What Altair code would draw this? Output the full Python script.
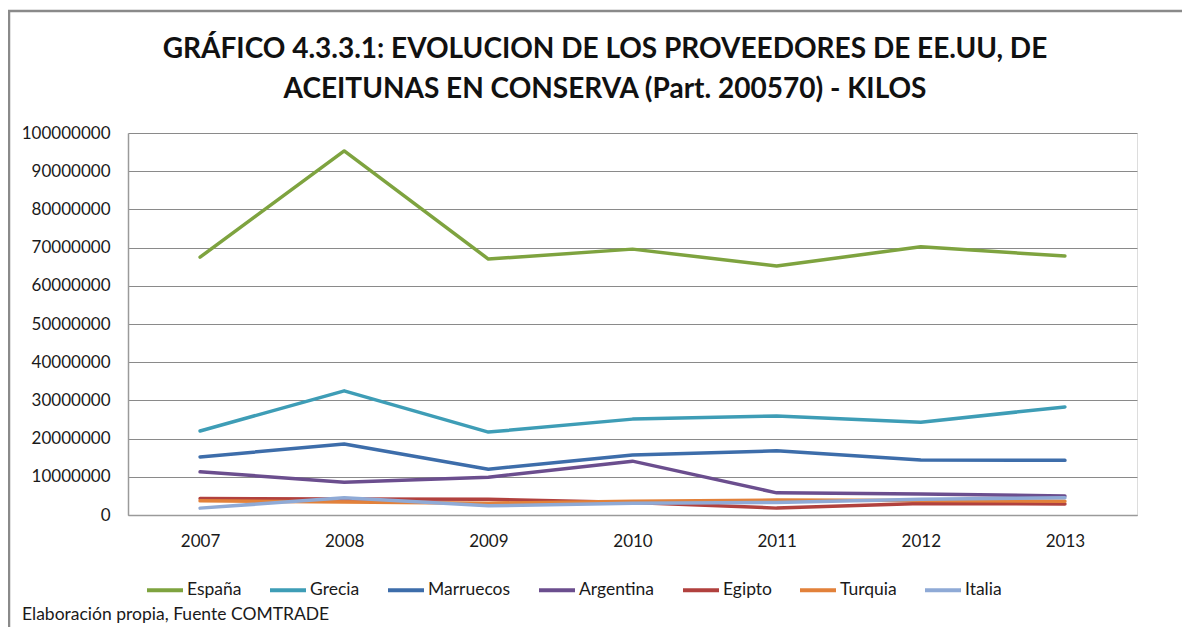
import altair as alt
import pandas as pd

years = ["2007", "2008", "2009", "2010", "2011", "2012", "2013"]
series = ["España", "Grecia", "Marruecos", "Argentina", "Egipto", "Turquia", "Italia"]
colors = ["#7EA33F", "#3E9DB6", "#3D6DAA", "#6B4E8E", "#B1413E", "#E2813A", "#8FAAD6"]

espana = [67500000, 95300000, 67000000, 69600000, 65200000, 70200000, 67800000]
grecia = [22000000, 32500000, 21700000, 25100000, 25900000, 24300000, 28300000]
marruecos = [15200000, 18600000, 12000000, 15700000, 16800000, 14400000, 14300000]
argentina = [11300000, 8600000, 9900000, 14100000, 5800000, 5500000, 5000000]
egipto = [4300000, 4200000, 4100000, 3300000, 1800000, 3000000, 2900000]
turquia = [3700000, 3400000, 3100000, 3600000, 3900000, 3800000, 3600000]
italia = [1800000, 4500000, 2400000, 3100000, 3300000, 4100000, 4500000]

title_lines = ["GRÁFICO 4.3.3.1: EVOLUCION DE LOS PROVEEDORES DE EE.UU, DE",
               "ACEITUNAS EN CONSERVA (Part. 200570) - KILOS"]
footer = "Elaboración propia, Fuente COMTRADE"

values = [espana, grecia, marruecos, argentina, egipto, turquia, italia]
rows = []
for s, vals in zip(series, values):
    for y, v in zip(years, vals):
        rows.append({"Pais": s, "Año": y, "Kilos": v})
df = pd.DataFrame(rows)

FONT = "Lato"
W, H = 1009, 382

lines = alt.Chart(df).mark_line(strokeWidth=3.5, strokeCap="round", strokeJoin="round").encode(
    x=alt.X("Año:O", sort=years, scale=alt.Scale(type="point", padding=0.5),
            axis=alt.Axis(title=None, labelAngle=0, ticks=False, labelPadding=18,
                          labelFontSize=17, labelFont=FONT, labelColor="#1a1a1a",
                          domainColor="#9a9a9a", domainWidth=1.5, grid=False)),
    y=alt.Y("Kilos:Q", scale=alt.Scale(domain=[0, 100000000], nice=False),
            axis=alt.Axis(title=None, values=list(range(0, 100000001, 10000000)), format="d",
                          ticks=False, labelPadding=18, labelFontSize=17, labelFont=FONT,
                          labelColor="#1a1a1a", domainColor="#9a9a9a", domainWidth=1.5,
                          gridColor="#8a8a8a", gridWidth=1)),
    color=alt.Color("Pais:N", sort=series,
                    scale=alt.Scale(domain=series, range=colors),
                    legend=alt.Legend(title=None, orient="none", direction="horizontal",
                                      legendX=17, legendY=437, symbolType="stroke",
                                      symbolSize=1296, symbolStrokeWidth=4,
                                      labelFontSize=17.5, labelFont=FONT, labelColor="#1a1a1a",
                                      labelOffset=2, columnPadding=20, labelLimit=200)),
)

one = pd.DataFrame({"k": [0]})

frame = alt.Chart(one).mark_rect(fillOpacity=0, stroke="#8a8a8a", strokeWidth=2.5).encode(
    x=alt.value(-119), x2=alt.value(1120), y=alt.value(-122), y2=alt.value(540)
)

t1 = alt.Chart(one).mark_text(text=title_lines[0], font=FONT, fontSize=28, fontWeight="bold",
                               color="#111111", align="center", baseline="middle").encode(
    x=alt.value(477), y=alt.value(-83))
t2 = alt.Chart(one).mark_text(text=title_lines[1], font=FONT, fontSize=28, fontWeight="bold",
                               color="#111111", align="center", baseline="middle").encode(
    x=alt.value(477), y=alt.value(-43))
foot = alt.Chart(one).mark_text(text=footer, font=FONT, fontSize=17.5, color="#1a1a1a",
                                 align="left", baseline="middle").encode(
    x=alt.value(-106), y=alt.value(482))

chart = alt.layer(frame, lines, t1, t2, foot).properties(
    width=W, height=H,
    autosize=alt.AutoSizeParams(type="none"),
    padding={"left": 120, "top": 125, "right": 45, "bottom": 112},
).configure_view(stroke=None).configure(background="white")

chart.save("out.html", embed_options={"renderer": "svg", "actions": False})
